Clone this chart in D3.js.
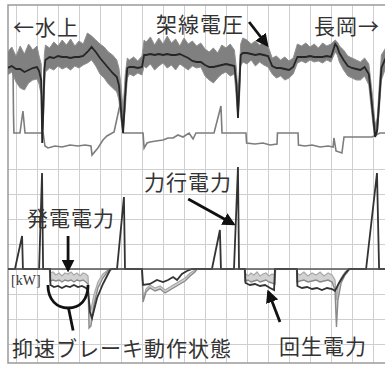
<!DOCTYPE html>
<html>
<head>
<meta charset="utf-8">
<script src="https://cdn.jsdelivr.net/npm/d3@7"></script>
<style>
  body { margin: 0; background: #fff; }
  svg { display: block; }
  .lbl { font-family: "Noto Sans CJK JP", sans-serif; font-size: 21px; fill: #333; }
</style>
</head>
<body>
<div id="chart"></div>
<script>
// time [s], catenary voltage band [V] (upper edge / lower edge / mean)
var voltT = [-4, -2, 0, 2, 4, 6, 8, 10, 11, 12, 12.5, 13, 13.5, 14,
  16, 18, 20, 22, 24, 26, 28, 30, 32, 34, 36, 38, 40, 42, 44, 46, 48,
  49, 50, 51, 52, 53, 54, 56, 58, 60, 61,
  62, 64, 66, 68, 70, 72, 74, 76, 78, 80, 82, 84, 86, 88, 90, 92, 94, 96, 98, 100, 102, 104,
  105, 105.7, 106.5, 107,
  108, 110, 112, 114, 116, 118, 120, 122, 124, 126, 128, 130, 132, 134, 136, 138, 140, 142, 144, 146, 148, 150, 152,
  153, 154, 156, 158, 160, 162, 164, 166, 168, 170, 171, 172, 173, 174, 176];
var voltHigh = [1540, 1565, 1520, 1570, 1530, 1580, 1550, 1570, 1520, 1480, 1300, 1325, 1525, 1575,
  1560, 1590, 1570, 1600, 1575, 1605, 1570, 1595, 1580, 1635, 1620, 1600, 1580, 1565, 1540, 1525, 1500,
  1460, 1375, 1250, 1425, 1510, 1500, 1515, 1495, 1520, 1600,
  1590, 1615, 1575, 1610, 1580, 1620, 1585, 1605, 1570, 1610, 1580, 1595, 1570, 1585, 1555, 1540, 1560, 1535, 1575, 1560, 1580, 1550,
  1450, 1325, 1475, 1580,
  1610, 1600, 1580, 1595, 1575, 1590, 1570, 1510, 1520, 1500, 1515, 1495, 1510, 1580, 1570, 1585, 1565, 1580, 1560, 1585, 1570, 1580, 1600,
  1590, 1570, 1550, 1520, 1510, 1500, 1490, 1510, 1480, 1300, 1175, 1210, 1375, 1525, 1560];
var voltLow = [1425, 1440, 1390, 1360, 1350, 1385, 1400, 1405, 1380, 1325, 1085, 1175, 1350, 1440,
  1460, 1450, 1470, 1455, 1465, 1450, 1470, 1460, 1475, 1485, 1500, 1470, 1430, 1410, 1380, 1360, 1340,
  1300, 1200, 1135, 1250, 1410, 1430, 1420, 1435, 1425, 1470,
  1460, 1480, 1450, 1470, 1485, 1460, 1475, 1450, 1480, 1465, 1450, 1470, 1460, 1465, 1420, 1400, 1385, 1410, 1430, 1440, 1420, 1430,
  1300, 1210, 1325, 1470,
  1490, 1480, 1500, 1470, 1490, 1475, 1465, 1430, 1410, 1420, 1400, 1410, 1430, 1485, 1495, 1485, 1500, 1490, 1495, 1485, 1500, 1490, 1540,
  1525, 1490, 1450, 1420, 1410, 1400, 1400, 1420, 1375, 1175, 1115, 1125, 1250, 1400, 1460];
var voltMean = [1460, 1470, 1455, 1455, 1440, 1450, 1460, 1465, 1445, 1400, 1085, 1250, 1450, 1500,
  1515, 1510, 1520, 1515, 1515, 1510, 1515, 1515, 1520, 1540, 1565, 1540, 1510, 1485, 1460, 1435, 1415,
  1375, 1250, 1135, 1325, 1460, 1465, 1465, 1460, 1465, 1525,
  1525, 1530, 1525, 1530, 1525, 1530, 1525, 1525, 1530, 1520, 1510, 1495, 1490, 1490, 1475, 1465, 1465, 1470, 1475, 1480, 1475, 1470,
  1375, 1210, 1400, 1525,
  1535, 1535, 1530, 1525, 1530, 1525, 1520, 1470, 1460, 1460, 1455, 1450, 1465, 1515, 1515, 1515, 1520, 1515, 1515, 1515, 1520, 1515, 1580,
  1565, 1535, 1500, 1470, 1460, 1455, 1450, 1465, 1430, 1225, 1115, 1150, 1300, 1460, 1510];

// lower step trace in the voltage panel [V]
var stepT = [-1.4, -1.2, -1, 1.9, 3.3, 4.3, 12.9, 13.8, 15.2, 18.6, 21.9, 25.7, 29.5, 32.9, 35.7, 36.2,
  39, 41.4, 43.3, 46.7, 50, 51, 60.5, 61, 62.4, 63.8, 66.7, 70, 72.4, 74.8, 77.1, 79.5, 82.4, 84.3, 85.7,
  94.3, 97.6, 98.1, 109.5, 109.8, 113.8, 117.6, 121, 124.3, 124.5, 134.3, 134.5, 137.6, 141, 144.8,
  148.6, 151, 151.4, 152.4, 155.2, 156.2, 169.5, 173.3, 176.2];
var stepVals = [1450, 1235, 1135, 1135, 1245, 1135, 1135, 1070, 1060, 1070, 1065, 1075, 1070, 1075, 1070, 1025,
  1060, 1100, 1120, 1140, 1300, 1135, 1135, 1060, 1085, 1090, 1095, 1100, 1110, 1110, 1125, 1115, 1135, 1105, 1135,
  1135, 1270, 1135, 1135, 1085, 1080, 1085, 1075, 1080, 1135, 1135, 1075, 1070, 1075, 1065,
  1070, 1065, 1110, 1045, 1035, 1115, 1115, 1135, 1135];

// powering / regenerative power [kW]
var powT = [-3.8, -0.5, 2.9, 3.3, 11.0, 12.4, 12.9, 16.2, 16.4, 18.1, 20, 21.9, 23.8, 25.7, 27.6, 29.5,
  31.4, 33.3, 34.3, 35.2, 36.2, 38.6, 41.4, 44.8, 45.7, 48.1, 51.4, 51.9, 60, 60.5, 63.8, 67.1, 70, 72.4,
  74.8, 76.7, 79, 81.4, 83.8, 93.3, 97.1, 97.6, 103.8, 105.7, 106.2, 109, 109.3, 111.4, 113.8, 116.2,
  118.6, 121, 122.9, 123.3, 133.8, 134, 136.2, 138.6, 141, 143.3, 145.7, 148.1, 150.5, 151.9, 153.8,
  156.2, 158.6, 166.7, 171.9, 172.9, 176.2];
var powDark = [0, 0, 660, 0, 0, 1920, 0, 0, -320, -360, -340, -380, -340, -360, -320, -360,
  -340, -380, -420, -860, -980, -580, -300, -20, 0, 0, 1440, 0, 0, -320, -300, -220, -260, -220,
  -160, -220, -100, -40, 0, 0, 780, 0, 0, 2040, 0, 0, -280, -320, -300, -340,
  -320, -380, -420, 0, 0, -340, -380, -360, -400, -380, -420, -380, -400, -440, -280,
  -120, 0, 0, 1920, 0, 0];

// generated power band [kW] (upper / lower edge)
var genT = [-3.8, 15.95, 16.2, 17.6, 19.0, 20.5, 21.9, 23.3, 24.8, 26.2, 27.6, 29.0, 30.5, 31.9, 33.3, 34.3,
  34.8, 35.7, 37.1, 39.0, 41.4, 43.8, 44.8,
  60, 60.5, 61.9, 63.8, 66.2, 68.6, 71, 73.3, 75.7, 78.1, 80.5, 82.9, 85.2, 86.2,
  108.8, 109, 110.5, 111.9, 113.3, 114.8, 116.2, 117.6, 119, 120.5, 121.9, 123.3, 123.6,
  133.6, 133.8, 135.2, 137.1, 139, 141, 142.9, 144.8, 146.7, 148.6, 150.5, 151.9, 152.6, 153.3, 154.8,
  156.7, 158.6, 159, 176.2];
var genHigh = [0, 0, -80, -60, -120, -80, -140, -80, -100, -60, -120, -80, -140, -80, -100, -140,
  -620, -820, -520, -260, -100, -20, 0,
  0, -600, -400, -320, -380, -340, -420, -360, -300, -240, -180, -80, -20, 0,
  0, -80, -140, -80, -120, -60, -140, -100, -80, -140, -100, -120, 0,
  0, -80, -120, -60, -140, -80, -120, -60, -140, -80, -120, -220, -620, -320, -180,
  -60, 0, 0, 0];
var genLow = [0, 0, -240, -220, -240, -220, -260, -220, -240, -220, -260, -220, -240, -220, -260, -300,
  -1180, -1140, -720, -380, -180, -40, 0,
  0, -660, -460, -380, -440, -400, -480, -420, -360, -300, -240, -140, -60, 0,
  0, -240, -220, -260, -240, -220, -260, -240, -220, -260, -280, -300, 0,
  0, -260, -240, -220, -260, -240, -220, -260, -240, -220, -260, -420, -1160, -620, -280,
  -120, -20, 0, 0];

var powerGrid = [-1500, -1000, -500, 0, 500, 1000, 1500, 2000];

window.addEventListener('DOMContentLoaded', function () {
  drawChart();
});

function drawChart() {
  var w = 385, h = 365;
  var frame = { left: 8, top: 5, bottom: 363, right: 385 };

  var svg = d3.select("#chart")
      .append("svg")
      .attr("width", w)
      .attr("height", h);

  var x = d3.scaleLinear().domain([0, 180]).range([16, 394]);
  var yV = d3.scaleLinear().domain([1000, 1700]).range([160, 20]);
  var yP = d3.scaleLinear().domain([-2000, 2000]).range([369, 169]);

  var defs = svg.append("defs");
  defs.append("clipPath").attr("id", "plotClip")
    .append("rect")
    .attr("x", frame.left).attr("y", frame.top)
    .attr("width", frame.right - frame.left).attr("height", frame.bottom - frame.top);
  defs.append("marker")
    .attr("id", "arrow")
    .attr("viewBox", "0 0 10 10")
    .attr("refX", 8).attr("refY", 5)
    .attr("markerUnits", "userSpaceOnUse")
    .attr("markerWidth", 13).attr("markerHeight", 13)
    .attr("orient", "auto")
    .append("path")
    .attr("d", "M0,0 L10,5 L0,10 z")
    .attr("fill", "#111");

  // grid
  var gx = svg.append("g")
      .attr("class", "grid-x")
      .attr("transform", "translate(0," + frame.top + ")")
      .call(d3.axisBottom(x).ticks(18).tickSize(frame.bottom - frame.top).tickFormat(""));
  var gy = svg.append("g")
      .attr("class", "grid-y")
      .attr("transform", "translate(" + frame.left + ",0)")
      .call(d3.axisRight(yP).tickValues(powerGrid).tickSize(w - frame.left).tickFormat(""));
  svg.selectAll(".grid-x path.domain, .grid-y path.domain").remove();
  svg.selectAll(".grid-x line, .grid-y line")
      .attr("stroke", "#cfcfcf")
      .attr("stroke-width", 1);

  // frame
  svg.append("path")
      .attr("d", "M" + w + "," + frame.top + "H" + frame.left + "V" + frame.bottom + "H" + w)
      .attr("fill", "none")
      .attr("stroke", "#9a9a9a")
      .attr("stroke-width", 1.5);

  var plot = svg.append("g").attr("clip-path", "url(#plotClip)");

  // voltage band
  var voltIdx = d3.range(voltT.length);
  var voltArea = d3.area()
      .x(function (i) { return x(voltT[i]); })
      .y0(function (i) { return yV(voltLow[i]); })
      .y1(function (i) { return yV(voltHigh[i]); });
  plot.append("path")
      .datum(voltIdx)
      .attr("d", voltArea)
      .attr("fill", "#808080")
      .attr("stroke", "#909090")
      .attr("stroke-width", 1);

  // step trace
  var stepLine = d3.line()
      .x(function (d, i) { return x(stepT[i]); })
      .y(function (d) { return yV(d); });
  plot.append("path")
      .datum(stepVals)
      .attr("d", stepLine)
      .attr("fill", "none")
      .attr("stroke", "#7d7d7d")
      .attr("stroke-width", 1.6);

  // voltage mean
  var voltLine = d3.line()
      .x(function (d, i) { return x(voltT[i]); })
      .y(function (d) { return yV(d); });
  plot.append("path")
      .datum(voltMean)
      .attr("d", voltLine)
      .attr("fill", "none")
      .attr("stroke", "#262626")
      .attr("stroke-width", 1.8);

  // zero line of power
  svg.append("line")
      .attr("x1", frame.left).attr("x2", w)
      .attr("y1", yP(0)).attr("y2", yP(0))
      .attr("stroke", "#555")
      .attr("stroke-width", 1.6);

  // generated power band
  var genIdx = d3.range(genT.length);
  var genArea = d3.area()
      .x(function (i) { return x(genT[i]); })
      .y0(function (i) { return yP(genLow[i]); })
      .y1(function (i) { return yP(genHigh[i]); });
  plot.append("path")
      .datum(genIdx)
      .attr("d", genArea)
      .attr("fill", "#d2d2d2");
  plot.append("path")
      .datum(genIdx)
      .attr("d", d3.line().x(function (i) { return x(genT[i]); }).y(function (i) { return yP(genHigh[i]); }))
      .attr("fill", "none")
      .attr("stroke", "#a8a8a8")
      .attr("stroke-width", 1.2);
  plot.append("path")
      .datum(genIdx)
      .attr("d", d3.line().x(function (i) { return x(genT[i]); }).y(function (i) { return yP(genLow[i]); }))
      .attr("fill", "none")
      .attr("stroke", "#8a8a8a")
      .attr("stroke-width", 1.4);

  // power (powering / regeneration)
  var powLine = d3.line()
      .x(function (d, i) { return x(powT[i]); })
      .y(function (d) { return yP(d); });
  plot.append("path")
      .datum(powDark)
      .attr("d", powLine)
      .attr("fill", "none")
      .attr("stroke", "#333")
      .attr("stroke-width", 1.8);

  // annotations
  function arrow(x1, y1, x2, y2) {
    svg.append("line")
        .attr("x1", x1).attr("y1", y1)
        .attr("x2", x2).attr("y2", y2)
        .attr("stroke", "#111")
        .attr("stroke-width", 2.8)
        .attr("marker-end", "url(#arrow)");
  }
  arrow(x(111), yV(1690), x(119.5), yV(1575));     // 架線電圧
  arrow(x(24.8), yP(660), x(24.8), yP(-20));       // 発電電力
  arrow(x(82), yP(1400), x(103.5), yP(900));       // 力行電力
  arrow(x(125.7), yP(-1060), x(120.2), yP(-460));  // 回生電力

  // bowl around the holding brake period
  var bowl = d3.path();
  bowl.moveTo(x(15.2), yP(-320));
  bowl.bezierCurveTo(x(15.2), yP(-620), x(19.5), yP(-780), x(24.8), yP(-780));
  bowl.bezierCurveTo(x(30.5), yP(-780), x(34.3), yP(-620), x(34.3), yP(-320));
  svg.append("path")
      .attr("d", bowl.toString())
      .attr("fill", "none")
      .attr("stroke", "#111")
      .attr("stroke-width", 2.8);
  svg.append("line")
      .attr("x1", x(25)).attr("y1", yP(-780))
      .attr("x2", x(27.2)).attr("y2", yP(-1230))
      .attr("stroke", "#111")
      .attr("stroke-width", 2.8);

  // labels
  var labels = [
    { t: "←水上", x: 13, y: 35 },
    { t: "架線電圧", x: 156, y: 32 },
    { t: "長岡→", x: 314, y: 34 },
    { t: "力行電力", x: 144, y: 190 },
    { t: "発電電力", x: 27, y: 226 },
    { t: "抑速ブレーキ動作状態", x: 12, y: 356 },
    { t: "回生電力", x: 279, y: 354 }
  ];
  svg.selectAll("text.lbl")
      .data(labels)
      .enter()
      .append("text")
      .attr("class", "lbl")
      .attr("x", function (d) { return d.x; })
      .attr("y", function (d) { return d.y; })
      .attr("letter-spacing", 1)
      .text(function (d) { return d.t; });

  svg.append("text")
      .attr("x", 11)
      .attr("y", 285)
      .attr("font-family", "Liberation Serif, serif")
      .attr("font-size", 14)
      .attr("fill", "#333")
      .text("[kW]");
}
</script>
</body>
</html>
